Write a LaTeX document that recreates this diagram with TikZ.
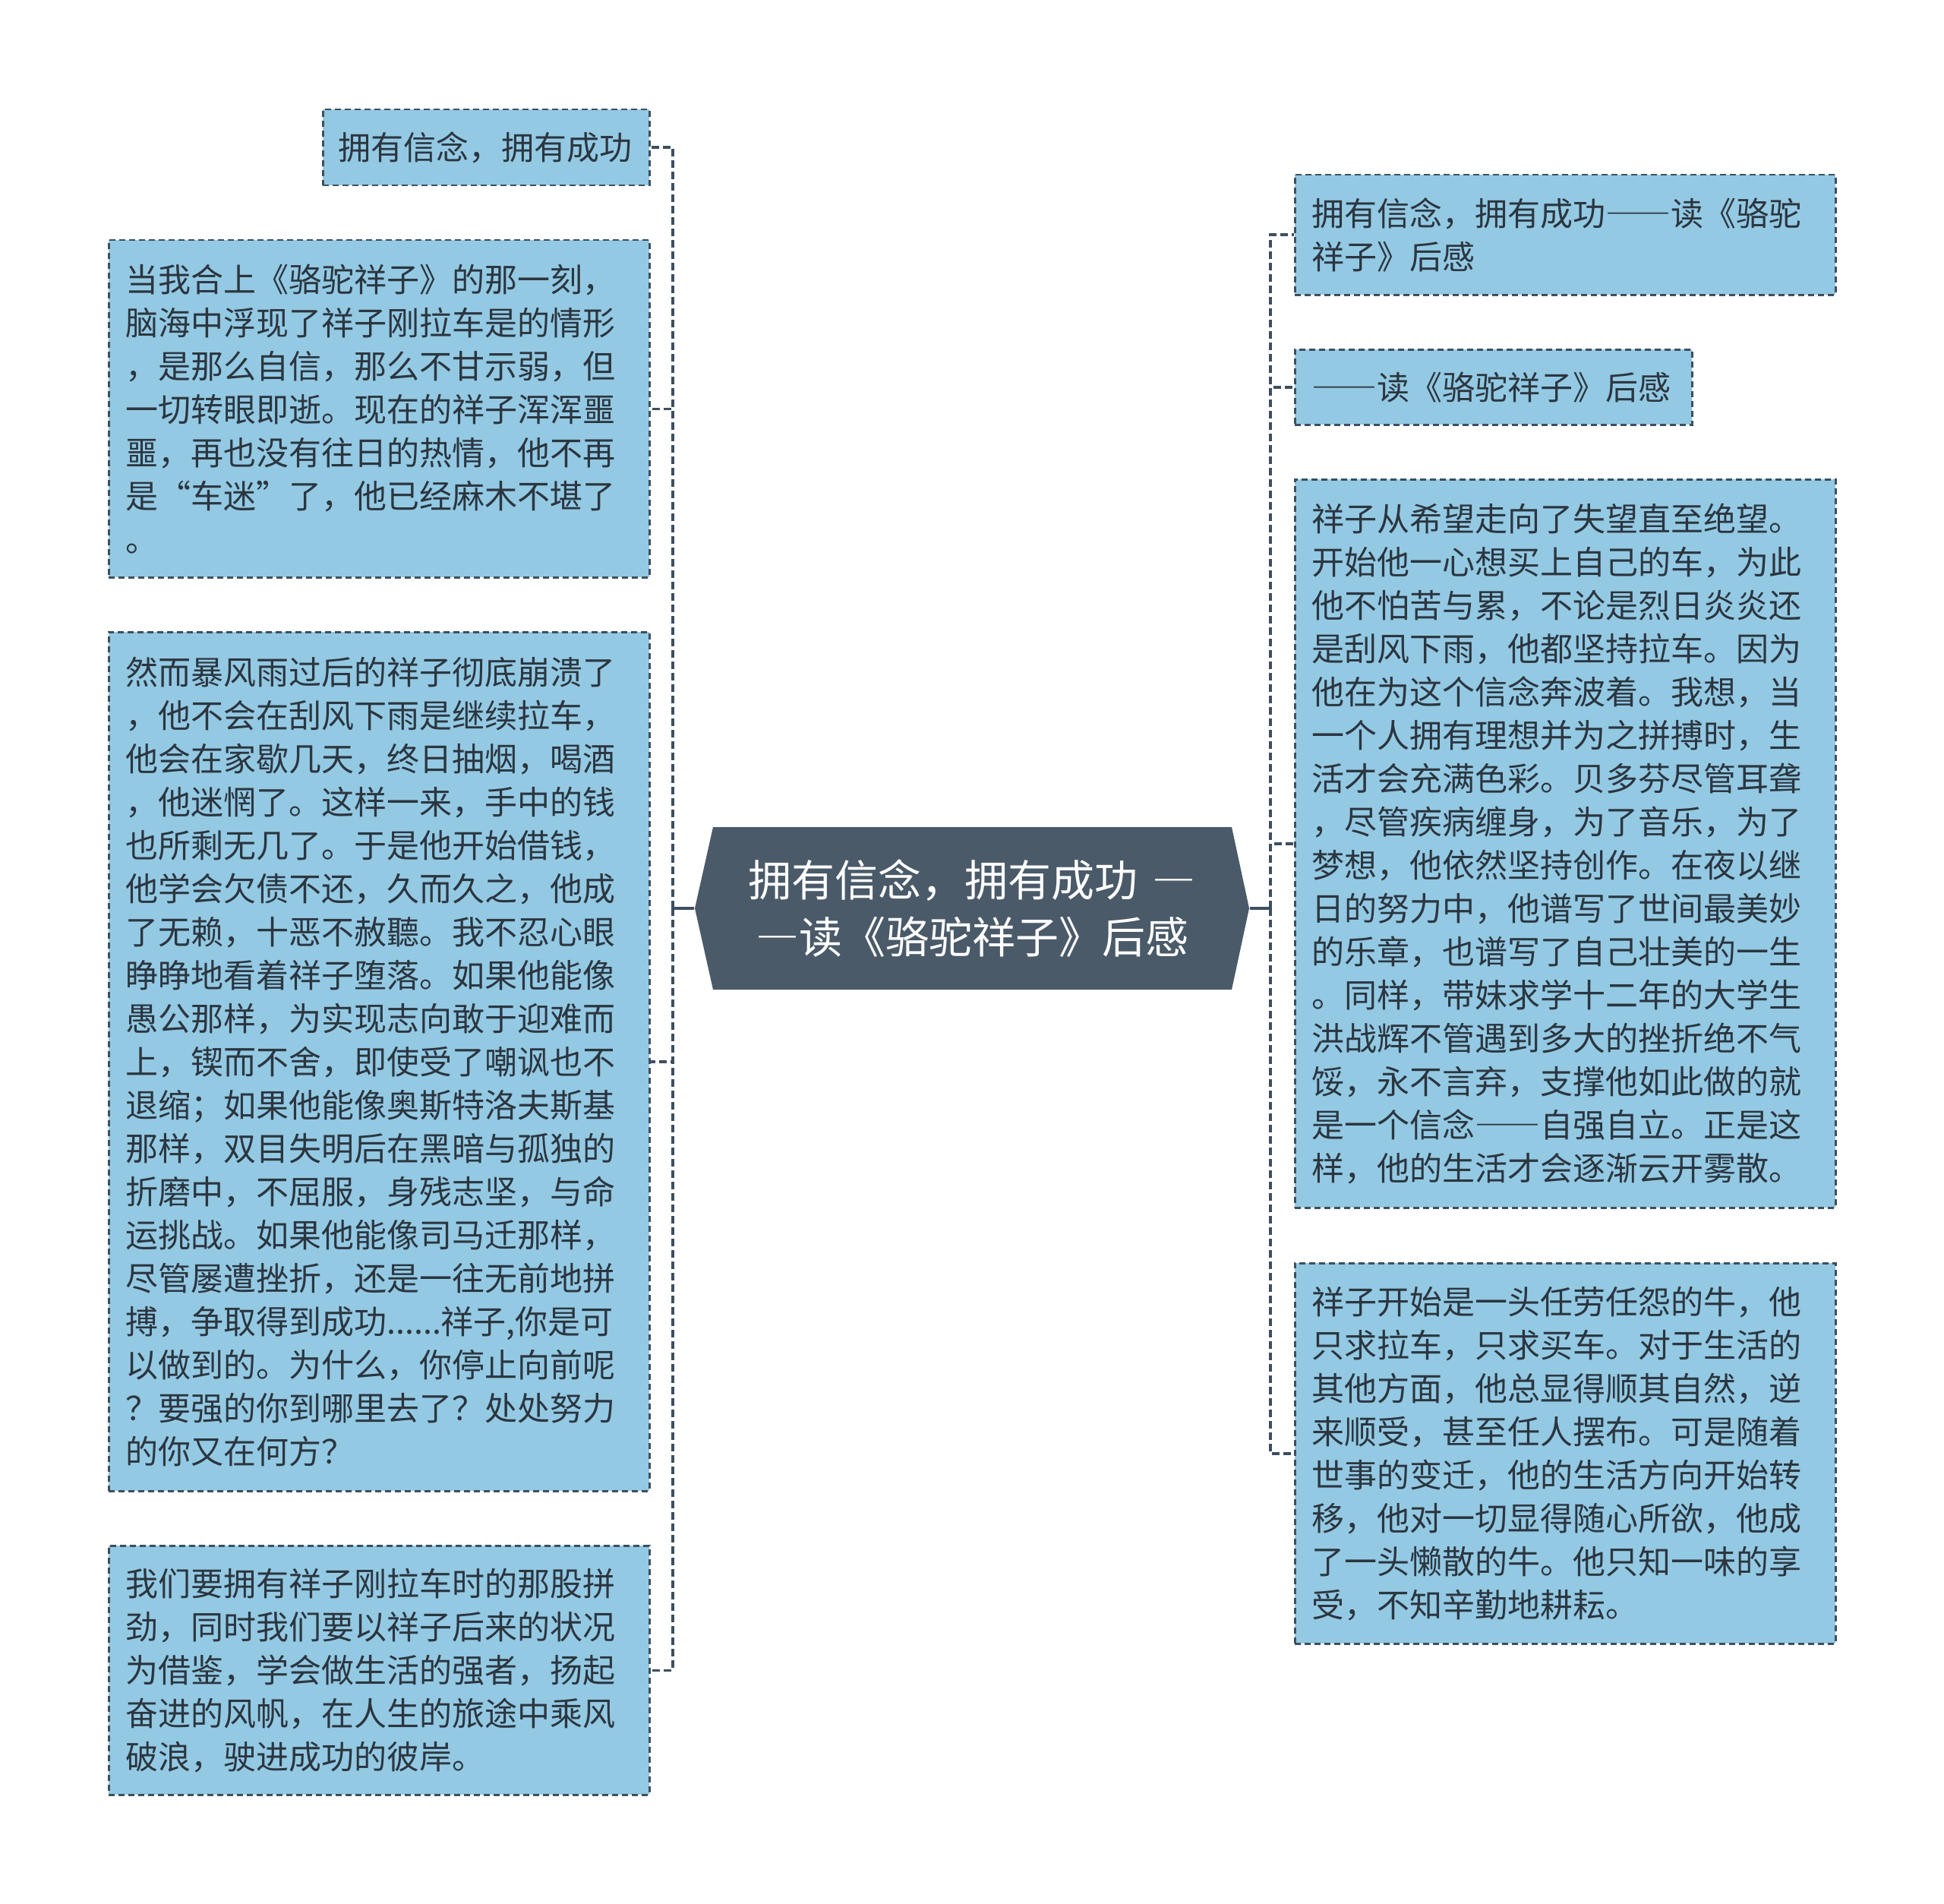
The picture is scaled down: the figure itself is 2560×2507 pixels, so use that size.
\documentclass[tikz,border=0pt]{standalone}
\usepackage{fontspec}
\setmainfont{Noto Sans CJK SC}
\usetikzlibrary{calc}
\definecolor{boxfill}{HTML}{94C9E3}
\definecolor{boxline}{HTML}{3D4F5F}
\definecolor{ctrfill}{HTML}{4A5A69}
\definecolor{txt}{HTML}{2B3640}
\newcommand{\fwdash}[1]{{\addfontfeatures{CharacterWidth=Full}#1}}
\begin{document}
\begin{tikzpicture}[x=1pt,y=-1pt,
  textbox/.style={draw=boxline, fill=boxfill, line width=2.5pt, dash pattern=on 8pt off 5pt,
    anchor=north west, align=left, inner xsep=22pt, inner ysep=0pt, text=txt,
    font=\fontsize{43pt}{57pt}\selectfont},
  conn/.style={draw=boxline, line width=3.5pt, dash pattern=on 10pt off 5pt},
  link/.style={draw=boxline, line width=3.5pt}]
\useasboundingbox (0,0) rectangle (2560,2507);

% central topic
\path[fill=ctrfill] (915,1196) -- (939,1089) -- (1622,1089) -- (1645,1196) -- (1622,1303) -- (939,1303) -- cycle;
\node[minimum width=731pt, minimum height=214pt, inner sep=0pt, text=white, align=center,
  font=\fontsize{57pt}{75pt}\selectfont] (ctr) at (1280,1196)
  {拥有信念，拥有成功\hspace{0.35em}\fwdash{—}\\\fwdash{—}读《骆驼祥子》后感};

% left boxes
\node[textbox, inner xsep=20pt, text width=390pt, minimum height=100pt] (L1) at (424,143)
  {拥有信念，拥有成功};
\node[textbox, text width=668pt, minimum height=444pt] (L2) at (142,315)
  {当我合上《骆驼祥子》的那一刻，\\脑海中浮现了祥子刚拉车是的情形\\，是那么自信，那么不甘示弱，但\\一切转眼即逝。现在的祥子浑浑噩\\噩，再也没有往日的热情，他不再\\是“车迷”了，他已经麻木不堪了\\。};
\node[textbox, text width=668pt, minimum height=1131pt] (L3) at (142,831)
  {然而暴风雨过后的祥子彻底崩溃了\\，他不会在刮风下雨是继续拉车，\\他会在家歇几天，终日抽烟，喝酒\\，他迷惘了。这样一来，手中的钱\\也所剩无几了。于是他开始借钱，\\他学会欠债不还，久而久之，他成\\了无赖，十恶不赦聽。我不忍心眼\\睁睁地看着祥子堕落。如果他能像\\愚公那样，为实现志向敢于迎难而\\上，锲而不舍，即使受了嘲讽也不\\退缩；如果他能像奥斯特洛夫斯基\\那样，双目失明后在黑暗与孤独的\\折磨中，不屈服，身残志坚，与命\\运挑战。如果他能像司马迁那样，\\尽管屡遭挫折，还是一往无前地拼\\搏，争取得到成功......祥子,你是可\\以做到的。为什么，你停止向前呢\\？要强的你到哪里去了？处处努力\\的你又在何方？};
\node[textbox, text width=668pt, minimum height=328pt] (L4) at (142,2034)
  {我们要拥有祥子刚拉车时的那股拼\\劲，同时我们要以祥子后来的状况\\为借鉴，学会做生活的强者，扬起\\奋进的风帆，在人生的旅途中乘风\\破浪，驶进成功的彼岸。};

% right boxes
\node[textbox, text width=668pt, minimum height=158pt] (R1) at (1704,229)
  {拥有信念，拥有成功\fwdash{——}读《骆驼\\祥子》后感};
\node[textbox, text width=479pt, minimum height=99pt] (R2) at (1704,459)
  {\fwdash{——}读《骆驼祥子》后感};
\node[textbox, text width=668pt, minimum height=959pt] (R3) at (1704,630)
  {祥子从希望走向了失望直至绝望。\\开始他一心想买上自己的车，为此\\他不怕苦与累，不论是烈日炎炎还\\是刮风下雨，他都坚持拉车。因为\\他在为这个信念奔波着。我想，当\\一个人拥有理想并为之拼搏时，生\\活才会充满色彩。贝多芬尽管耳聋\\，尽管疾病缠身，为了音乐，为了\\梦想，他依然坚持创作。在夜以继\\日的努力中，他谱写了世间最美妙\\的乐章，也谱写了自己壮美的一生\\。同样，带妹求学十二年的大学生\\洪战辉不管遇到多大的挫折绝不气\\馁，永不言弃，支撑他如此做的就\\是一个信念\fwdash{——}自强自立。正是这\\样，他的生活才会逐渐云开雾散。};
\node[textbox, text width=668pt, minimum height=501pt] (R4) at (1704,1662)
  {祥子开始是一头任劳任怨的牛，他\\只求拉车，只求买车。对于生活的\\其他方面，他总显得顺其自然，逆\\来顺受，甚至任人摆布。可是随着\\世事的变迁，他的生活方向开始转\\移，他对一切显得随心所欲，他成\\了一头懒散的牛。他只知一味的享\\受，不知辛勤地耕耘。};

% connectors
\coordinate (lj) at (886,1196);
\coordinate (rj) at (1673,1196);
\draw[link] (ctr.west) -- (lj);
\draw[link] (ctr.east) -- (rj);
\foreach \n in {L1,L2,L3,L4} \draw[conn] (lj) |- (\n.east);
\foreach \n in {R1,R2,R3,R4} \draw[conn] (rj) |- (\n.west);
\end{tikzpicture}
\end{document}
